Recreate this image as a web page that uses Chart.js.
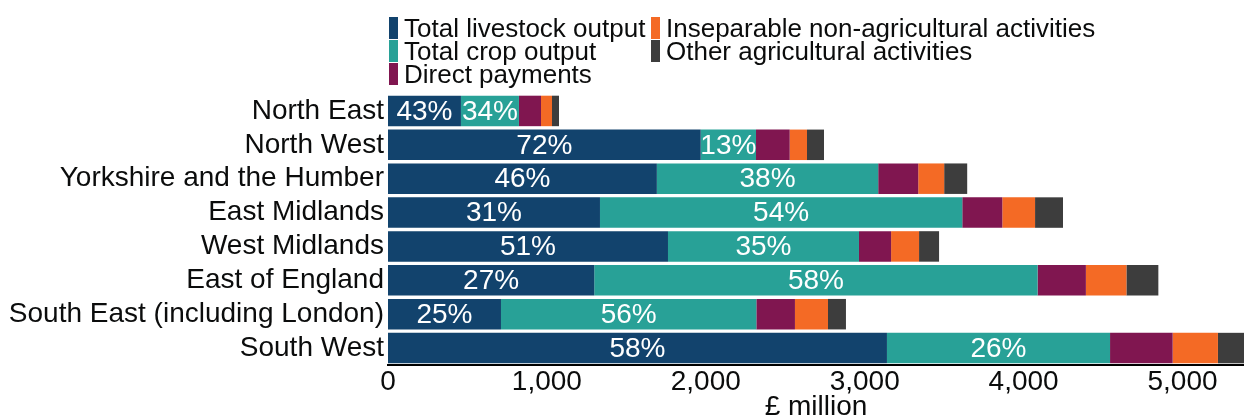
<!DOCTYPE html>
<html>
<head>
<meta charset="utf-8">
<script src="https://cdn.jsdelivr.net/npm/chart.js@4.4.0/dist/chart.umd.min.js"></script>
<style>
  body { margin: 0; background: #fff; }
  #wrap { position: relative; width: 1244px; height: 419px; }
  #legend { position: absolute; left: 389px; top: 17px; font-family: "Liberation Sans", Arial, sans-serif; font-size: 26px; color: #0b0c0c; }
  .item { position: absolute; height: 22px; line-height: 22px; white-space: nowrap; }
  .box { position: absolute; left: 0; top: 0; width: 9px; height: 22px; }
  .lbl { position: absolute; left: 15px; top: 0; }
</style>
</head>
<body>
<div id="wrap">
  <canvas id="chart" width="1244" height="419"></canvas>
  <div id="legend"></div>
</div>
<script>
// £ million by region
const regions = ['North East', 'North West', 'Yorkshire and the Humber', 'East Midlands',
                 'West Midlands', 'East of England', 'South East (including London)', 'South West'];
const livestock = [459, 1968, 1692, 1334, 1762, 1298, 711, 3140];
const crops     = [365, 348, 1393, 2280, 1202, 2790, 1607, 1404];
const direct    = [139, 212, 252, 252, 202, 304, 243, 394];
const insep     = [69, 109, 163, 206, 176, 255, 208, 285];
const other     = [44, 107, 145, 176, 126, 201, 113, 164];

const seriesNames = ['Total livestock output', 'Total crop output', 'Direct payments',
                     'Inseparable non-agricultural activities', 'Other agricultural activities'];
const seriesColors = ['#12436D', '#28A197', '#801650', '#F46A25', '#3D3D3D'];
const xTicks = [0, 1000, 2000, 3000, 4000, 5000];

const series = [livestock, crops, direct, insep, other];
const totals = regions.map((r, i) => series.reduce((s, arr) => s + arr[i], 0));
const maxTotal = Math.max(...totals);

const font = '"Liberation Sans", Arial, sans-serif';

// percentages written on the first two segments
const pctLabels = {
    id: 'pctLabels',
    afterDatasetsDraw(chart) {
        const ctx = chart.ctx;
        ctx.save();
        ctx.font = '28px ' + font;
        ctx.fillStyle = '#fff';
        ctx.textAlign = 'center';
        ctx.textBaseline = 'middle';
        [0, 1].forEach(di => {
            chart.getDatasetMeta(di).data.forEach((bar, i) => {
                const pct = Math.round(series[di][i] / totals[i] * 100);
                ctx.fillText(pct + '%', (bar.x + bar.base) / 2, bar.y + 1);
            });
        });
        ctx.restore();
    }
};

const ctx = document.getElementById('chart').getContext('2d');
const chart = new Chart(ctx, {
    type: 'bar',
    data: {
        labels: regions,
        datasets: series.map((arr, i) => ({
            label: seriesNames[i],
            data: arr,
            backgroundColor: seriesColors[i],
            borderWidth: 0,
            categoryPercentage: 0.9,
            barPercentage: 1
        }))
    },
    options: {
        indexAxis: 'y',
        responsive: false,
        animation: false,
        layout: { padding: { top: 94, left: 0, right: 0, bottom: 0 } },
        plugins: {
            legend: { display: false },
            tooltip: { enabled: false }
        },
        scales: {
            x: {
                stacked: true,
                min: 0,
                max: maxTotal,
                afterBuildTicks: s => { s.ticks = xTicks.map(v => ({ value: v })); },
                afterFit: s => { s.height = 54; },
                grid: { display: false, drawTicks: false },
                border: { display: true, color: '#000', width: 2 },
                ticks: {
                    padding: 0,
                    color: '#0b0c0c',
                    font: { family: font, size: 28 },
                    callback: v => v.toLocaleString('en-GB')
                },
                title: {
                    display: true,
                    text: '£ million',
                    color: '#0b0c0c',
                    font: { family: font, size: 28 },
                    padding: { top: 0, bottom: -5 }
                }
            },
            y: {
                stacked: true,
                afterFit: s => { s.width = 388; },
                grid: { display: false, drawTicks: false },
                border: { display: false },
                ticks: {
                    autoSkip: false,
                    padding: 4,
                    color: '#0b0c0c',
                    font: { family: font, size: 28 }
                }
            }
        }
    },
    plugins: [pctLabels]
});

// legend laid out in columns like the original
const legend = document.getElementById('legend');
const cols = [0, 262];
chart.data.datasets.forEach((ds, i) => {
    const col = i < 3 ? 0 : 1;
    const row = i < 3 ? i : i - 3;
    const item = document.createElement('div');
    item.className = 'item';
    item.style.left = cols[col] + 'px';
    item.style.top = (row * 23) + 'px';
    item.innerHTML = '<span class="box" style="background:' + ds.backgroundColor + '"></span>' +
                     '<span class="lbl">' + ds.label + '</span>';
    legend.appendChild(item);
});
</script>
</body>
</html>
